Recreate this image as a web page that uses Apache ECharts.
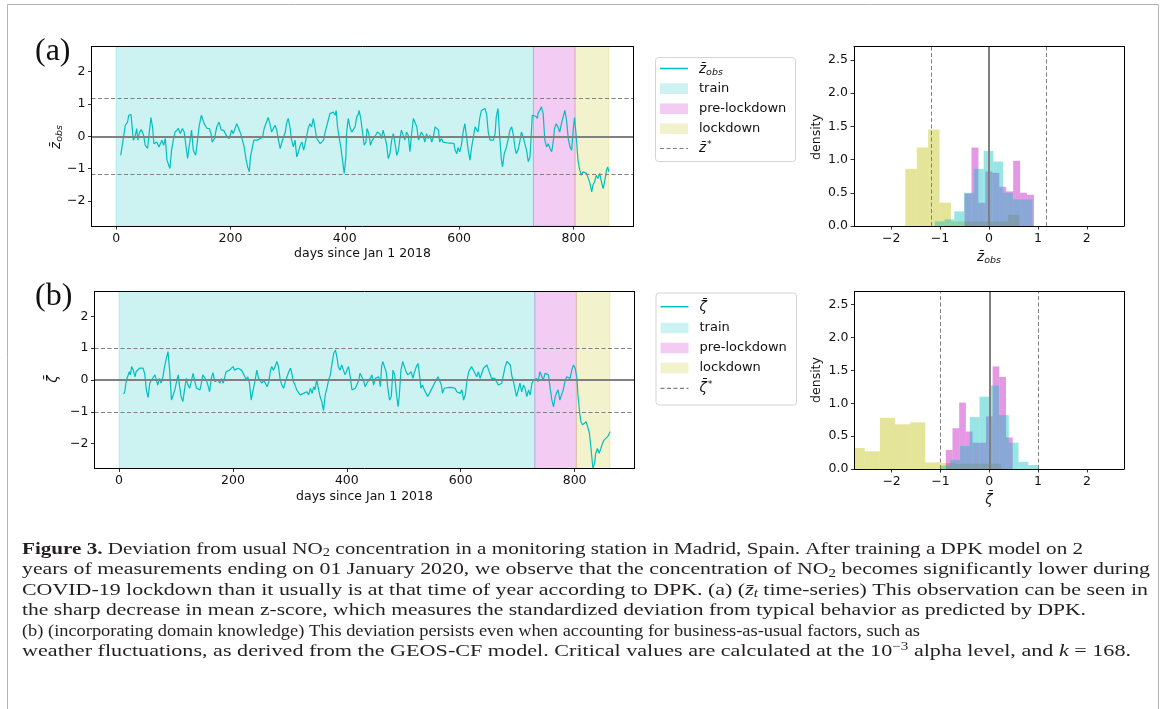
<!DOCTYPE html>
<html><head><meta charset="utf-8">
<script src="https://cdn.jsdelivr.net/npm/echarts@6/dist/echarts.min.js"></script>
<style>html,body{margin:0;padding:0;background:#fff}#c{width:1167px;height:709px}</style>
</head><body><div id="c"></div><script>
// ---------------- data ----------------
const dayTicks = [0, 200, 400, 600, 800];
const zTicks = [-2, -1, 0, 1, 2];
const densityTicks = [0, 0.5, 1, 1.5, 2, 2.5];
const periods = [0, 730, 803, 862];          // train | pre-lockdown | lockdown (days since Jan 1 2018)
const zStar = 1.18;                           // critical value panel (a)
const zetaStar = 1.0;                         // critical value panel (b)

// panel (a): mean z-score, [day, value]
const zobsSeries = [[8,-0.59],[13,-0.02],[16,0.34],[20,0.44],[22,0.65],[26,0.67],[28,0.29],[30,-0.12],[33,-0.02],[36,0.24],[38,-0.12],[41,0.13],[44,0.21],[48,0.03],[51,-0.28],[55,-0.38],[58,0.13],[61,0.58],[64,0.24],[66,-0.23],[71,-0.18],[75,-0.33],[80,-0.12],[83,-0.28],[86,-0.07],[89,-0.74],[92,-0.79],[94,-1.00],[97,-0.43],[100,-0.12],[103,0.13],[106,0.08],[109,0.24],[112,0.08],[116,0.24],[119,0.13],[122,-0.28],[125,-0.69],[128,-0.28],[132,0.19],[135,-0.43],[139,-0.59],[142,-0.18],[145,0.29],[149,0.65],[152,0.65],[154,0.39],[159,0.24],[163,0.24],[166,0.08],[168,-0.18],[172,-0.07],[176,0.29],[180,0.44],[184,0.19],[188,0.19],[191,0.13],[194,-0.02],[198,-0.07],[202,0.19],[205,0.08],[208,0.24],[211,0.39],[214,0.44],[218,0.08],[221,0.03],[224,-0.33],[227,-0.69],[230,-0.95],[233,-1.10],[235,-0.64],[239,-0.28],[241,-0.12],[244,-0.07],[247,-0.12],[252,-0.07],[256,-0.04],[259,0.24],[262,0.29],[266,0.58],[269,0.39],[272,0.13],[275,0.19],[278,0.34],[281,0.19],[284,-0.12],[287,-0.38],[290,-0.18],[293,-0.12],[296,0.13],[298,0.39],[301,0.55],[304,0.29],[307,-0.12],[310,-0.33],[313,-0.12],[316,-0.64],[319,-0.48],[322,-0.28],[325,-0.18],[328,-0.43],[330,-0.28],[333,-0.02],[336,0.24],[339,0.39],[342,0.29],[345,0.55],[348,0.24],[351,-0.07],[354,-0.12],[357,-0.23],[360,-0.28],[363,-0.12],[365,0.08],[368,0.13],[371,0.49],[374,0.70],[377,0.65],[380,0.75],[383,0.65],[385,0.80],[387,0.34],[390,-0.02],[393,-0.33],[396,-0.74],[399,-1.15],[402,-0.64],[403,0.08],[406,0.55],[409,0.29],[412,0.13],[415,0.19],[418,0.29],[421,0.60],[424,0.70],[425,0.80],[428,0.55],[431,0.13],[434,-0.28],[437,-0.18],[439,0.24],[442,0.08],[445,-0.28],[448,-0.12],[451,-0.07],[454,0.03],[457,0.13],[461,0.08],[464,-0.07],[467,0.19],[470,0.13],[473,-0.23],[476,-0.69],[479,-0.54],[482,-0.12],[485,0.08],[488,-0.23],[491,-0.59],[494,-0.43],[496,-0.12],[499,0.19],[502,0.13],[505,-0.12],[508,0.13],[511,0.03],[514,-0.48],[517,0.08],[520,0.55],[523,0.60],[526,0.29],[529,-0.12],[531,-0.12],[534,0.13],[537,0.03],[540,-0.18],[543,0.08],[546,-0.07],[549,0.03],[552,-0.18],[555,-0.02],[558,0.29],[561,0.34],[564,0.19],[566,-0.18],[569,-0.07],[572,-0.18],[575,-0.21],[581,-0.21],[587,-0.21],[591,-0.23],[593,-0.43],[596,-0.54],[598,-0.35],[601,-0.48],[604,-0.28],[607,0.13],[610,0.39],[613,-0.02],[616,-0.43],[619,-0.74],[622,-0.33],[625,-0.02],[628,0.29],[631,0.24],[633,0.13],[636,0.55],[639,0.80],[642,0.75],[645,0.86],[648,0.70],[651,0.13],[654,-0.12],[657,-0.18],[660,-0.12],[663,0.08],[665,0.60],[668,0.86],[671,-0.02],[674,-0.74],[676,-0.95],[679,-0.54],[683,-0.33],[686,-0.07],[689,0.19],[692,0.29],[695,0.03],[698,-0.38],[700,-0.54],[703,-0.43],[706,-0.18],[709,0.13],[712,-0.02],[715,-0.23],[718,-0.43],[721,-0.79],[724,-0.64],[727,0.29],[728,0.65],[731,0.60],[734,0.62],[737,0.55],[738,0.70],[741,0.80],[744,0.91],[747,0.70],[750,-0.12],[753,-0.33],[756,-0.23],[759,-0.38],[762,-0.48],[765,-0.12],[767,0.24],[770,0.39],[773,0.29],[776,0.13],[779,0.39],[782,0.60],[785,0.80],[788,0.49],[791,-0.07],[794,-0.33],[797,-0.43],[800,0.29],[802,0.58],[805,-0.02],[808,-0.74],[811,-1.05],[814,-1.21],[817,-1.10],[820,-1.05],[823,-1.15],[826,-1.21],[829,-1.46],[832,-1.72],[834,-1.52],[837,-1.41],[840,-1.21],[843,-1.31],[846,-1.15],[849,-1.41],[852,-1.62],[855,-1.36],[858,-1.05],[860,-0.95],[862,-1.10]];

// panel (b): domain-knowledge deviation, [day, value]
const zetaSeries = [[8,-0.44],[10,-0.37],[13,0],[16,0.05],[18,0.26],[20,0.16],[22,0.42],[25,0.31],[28,0.10],[30,0.26],[33,0.21],[36,0.37],[39,0.42],[42,0.37],[45,0.21],[48,-0.31],[51,-0.55],[54,-0.10],[57,0],[60,-0.05],[63,0.16],[66,0.10],[68,-0.16],[71,0.05],[74,-0.10],[77,0.10],[80,0.42],[83,0.68],[86,0.89],[89,0.26],[92,-0.63],[95,-0.63],[98,-0.31],[101,-0.05],[104,0.16],[106,-0.16],[109,-0.52],[112,-0.68],[115,-0.31],[118,0.05],[121,-0.16],[124,-0.26],[127,-0.31],[130,0.21],[133,0.26],[136,-0.26],[139,-0.21],[142,-0.31],[144,-0.16],[147,0.16],[150,0.10],[153,0],[156,-0.16],[159,-0.37],[162,0.05],[165,0.23],[168,-0.05],[171,-0.05],[174,0],[177,-0.10],[180,0.05],[183,-0.10],[185,-0.05],[188,0.26],[191,0.26],[194,0.31],[197,0.26],[200,0.42],[203,0.31],[206,0.26],[209,0.37],[212,0.42],[215,0.31],[218,0.26],[221,0.10],[223,0],[226,0.10],[229,-0.10],[232,-0.63],[234,-0.68],[236,-0.26],[239,0],[242,0.31],[245,0.05],[248,0.05],[251,-0.10],[254,0],[257,-0.10],[260,-0.21],[263,-0.05],[266,0.31],[268,0.42],[271,0.31],[274,0.42],[277,0.58],[280,0.42],[283,0],[286,-0.16],[289,-0.26],[292,-0.05],[295,0.10],[298,0.26],[301,0.37],[304,0.16],[306,-0.05],[309,-0.16],[312,-0.31],[315,-0.26],[318,-0.47],[321,-0.52],[324,-0.42],[327,-0.47],[330,-0.37],[333,-0.47],[336,-0.26],[339,-0.42],[342,-0.21],[344,-0.31],[347,0],[350,-0.26],[353,-0.52],[356,-0.68],[359,-0.96],[362,-0.47],[365,-0.26],[368,0],[371,0.16],[374,0.52],[377,0.84],[380,0.94],[383,0.68],[385,0.42],[388,0.31],[391,0.47],[394,0.31],[397,0.16],[400,0.31],[403,0.42],[406,0.10],[409,-0.31],[412,-0.26],[415,-0.26],[418,-0.21],[421,0],[423,0.21],[426,0.26],[429,0],[432,-0.21],[435,-0.10],[438,-0.05],[441,0.05],[444,0.16],[447,-0.16],[450,0.05],[453,0],[456,0.10],[459,-0.21],[461,0.42],[463,0.58],[466,0.52],[469,0.26],[472,-0.26],[475,-0.63],[478,-0.52],[481,0.31],[484,0.16],[487,-0.42],[490,-0.84],[492,-0.52],[495,0.31],[498,0.58],[501,0.42],[504,0.26],[507,0.16],[510,0.10],[513,0.26],[516,0.05],[519,0.26],[522,0.42],[525,0.52],[528,0.10],[530,-0.26],[533,-0.16],[536,-0.31],[539,-0.26],[542,-0.52],[545,-0.42],[548,-0.31],[551,-0.26],[554,-0.10],[557,0],[560,0.10],[563,0.10],[566,-0.16],[568,-0.42],[571,-0.26],[574,-0.23],[580,-0.23],[586,-0.24],[590,-0.26],[593,-0.37],[596,-0.31],[599,-0.42],[602,-0.31],[605,-0.63],[608,-0.47],[611,0],[614,0.26],[616,0.31],[619,0.42],[622,0.47],[625,0.21],[628,0.10],[631,0.26],[634,0.05],[637,0.21],[640,0.37],[643,0.42],[646,0.47],[649,0.31],[652,0.16],[654,0.05],[657,0.10],[660,0.05],[663,0],[666,-0.16],[669,-0.21],[672,-0.10],[675,-0.16],[678,0.42],[681,0.58],[684,0.60],[687,0.47],[690,0.10],[692,0],[695,-0.26],[698,-0.52],[701,-0.31],[704,-0.10],[707,-0.37],[710,-0.16],[713,-0.26],[716,-0.52],[719,-0.31],[722,-0.47],[725,-0.10],[728,0],[730,0],[733,0.05],[736,-0.05],[739,0.26],[742,0.31],[745,0],[748,0.21],[751,0.26],[754,0.16],[757,-0.26],[760,-0.63],[763,-0.84],[766,-0.52],[768,-0.42],[771,-0.31],[774,-0.63],[777,-0.58],[780,-0.31],[783,-0.05],[786,0.10],[789,0.10],[792,0.05],[795,0.31],[798,0.47],[801,0.37],[804,0.05],[806,-0.52],[809,-1.05],[811,-1.31],[814,-1.41],[817,-1.36],[820,-1.31],[823,-1.47],[826,-1.68],[829,-2.20],[832,-2.77],[835,-2.62],[837,-2.30],[840,-2.15],[843,-2.30],[846,-2.15],[849,-1.99],[852,-1.88],[855,-1.94],[858,-1.78],[861,-1.68],[862,-1.62]];

// histograms (density), bin edges + heights
const lockEdgesA  = [-1.71,-1.477,-1.244,-1.011,-0.778,-0.545,-0.312,-0.079,0.154,0.387,0.62];
const lockDensA   = [0.86,1.18,1.45,0.35,0.07,0.07,0.07,0.07,0.07,0.17];
const preEdgesA   = [-0.50,-0.358,-0.216,-0.074,0.068,0.21,0.352,0.494,0.636,0.778,0.92];
const preDensA    = [0.49,1.18,0.35,0.82,0.80,0.59,0.52,0.98,0.50,0.47];
const trainEdgesA = [-1.11,-0.91,-0.71,-0.51,-0.31,-0.11,0.09,0.29,0.49,0.69,0.89];
const trainDensA  = [0.07,0.10,0.22,0.50,0.86,1.13,0.97,0.50,0.40,0.40];

const lockEdgesB  = [-2.86,-2.55,-2.24,-1.93,-1.62,-1.31,-1.00,-0.69,-0.38,-0.07,0.24];
const lockDensB   = [0.32,0.27,0.78,0.68,0.71,0.10,0.09,0.08,0.08,0.08];
const preEdgesB   = [-0.89,-0.753,-0.616,-0.479,-0.342,-0.205,-0.068,0.069,0.206,0.343,0.48];
const preDensB    = [0.29,0.62,1.01,0.57,0.40,0.40,0.80,1.56,1.40,0.48];
const trainEdgesB = [-1.0,-0.8,-0.6,-0.4,-0.2,0.0,0.2,0.4,0.6,0.8,1.0];
const trainDensB  = [0.05,0.14,0.35,0.79,1.10,1.27,0.82,0.40,0.11,0.06];

// ---------------- styling ----------------
const TICKFONT = 'DejaVu Sans';
const CYAN = '#00bfbf';
const GRAY = '#808080';
const spanColors = ['rgba(0,191,191,0.2)', 'rgba(191,0,191,0.2)', 'rgba(191,191,0,0.2)'];
const histColors = {train:'rgba(0,191,191,0.4)', pre:'rgba(191,0,191,0.4)', lock:'rgba(191,191,0,0.4)'};
const minus = v => (v < 0 ? '\u2212' : '') + Math.abs(v);

const grids = [
  {left: 91.5, top: 46.5, width: 542, height: 179.5},
  {left: 94.5, top: 291.5, width: 540, height: 177},
  {left: 854, top: 46.5, width: 270, height: 179.5},
  {left: 854.5, top: 291.5, width: 269.5, height: 177.5}
].map(g => Object.assign({outerBoundsMode: 'none', containLabel: false}, g));

const ranges = [
  {x: [-43.1, 905.1], y: [-2.78, 2.78], xt: dayTicks, yt: zTicks, xf: minus, yf: minus},
  {x: [-43.1, 905.1], y: [-2.78, 2.78], xt: dayTicks, yt: zTicks, xf: minus, yf: minus},
  {x: [-2.76, 2.76], y: [0, 2.7], xt: zTicks, yt: densityTicks, xf: minus, yf: v => v.toFixed(1)},
  {x: [-2.76, 2.76], y: [0, 2.7], xt: zTicks, yt: densityTicks, xf: minus, yf: v => v.toFixed(1)}
];

const xAxes = [], yAxes = [];
ranges.forEach((r, gi) => {
  const lineSt = {show: true, onZero: false, lineStyle: {color: '#000', width: 1}};
  xAxes.push({type: 'value', gridIndex: gi, min: r.x[0], max: r.x[1], position: 'bottom', z: 10,
    axisLine: lineSt, splitLine: {show: false},
    axisTick: {show: true, inside: false, length: 3.5, lineStyle: {color: '#000', width: 0.8}, customValues: r.xt},
    axisLabel: {customValues: r.xt, formatter: r.xf, fontFamily: TICKFONT, fontSize: 12.5, color: '#111', margin: 6}});
  xAxes.push({type: 'value', gridIndex: gi, min: r.x[0], max: r.x[1], position: 'top', z: 10,
    axisLine: lineSt, splitLine: {show: false}, axisTick: {show: false}, axisLabel: {show: false}});
  yAxes.push({type: 'value', gridIndex: gi, min: r.y[0], max: r.y[1], position: 'left', z: 10,
    axisLine: lineSt, splitLine: {show: false},
    axisTick: {show: true, inside: false, length: 3.5, lineStyle: {color: '#000', width: 0.8}, customValues: r.yt},
    axisLabel: {customValues: r.yt, formatter: r.yf, fontFamily: TICKFONT, fontSize: 12.5, color: '#111', margin: 6}});
  yAxes.push({type: 'value', gridIndex: gi, min: r.y[0], max: r.y[1], position: 'right', z: 10,
    axisLine: lineSt, splitLine: {show: false}, axisTick: {show: false}, axisLabel: {show: false}});
});

function spanSeries(ax) {
  return {type: 'line', xAxisIndex: ax, yAxisIndex: ax, data: [], z: 1, silent: true, animation: false,
    markArea: {silent: true, animation: false, data: [0, 1, 2].map(i => [
      {xAxis: periods[i], itemStyle: {color: spanColors[i], borderColor: spanColors[i], borderWidth: 1}},
      {xAxis: periods[i + 1]}])}};
}
function hLines(ax, thr) {
  return {type: 'line', xAxisIndex: ax, yAxisIndex: ax, data: [], z: 5, silent: true, animation: false,
    markLine: {silent: true, animation: false, symbol: ['none', 'none'], label: {show: false},
      data: [{yAxis: 0, lineStyle: {color: GRAY, width: 2, type: 'solid'}},
             {yAxis: thr, lineStyle: {color: GRAY, width: 1.2, type: [4, 2.5]}},
             {yAxis: -thr, lineStyle: {color: GRAY, width: 1.2, type: [4, 2.5]}}]}};
}
function vLines(ax, thr) {
  return {type: 'line', xAxisIndex: ax, yAxisIndex: ax, data: [], z: 5, silent: true, animation: false,
    markLine: {silent: true, animation: false, symbol: ['none', 'none'], label: {show: false},
      data: [{xAxis: 0, lineStyle: {color: GRAY, width: 2, type: 'solid'}},
             {xAxis: thr, lineStyle: {color: GRAY, width: 1, type: [4, 2.5]}},
             {xAxis: -thr, lineStyle: {color: GRAY, width: 1, type: [4, 2.5]}}]}};
}
function hist(ax, edges, dens, color, z) {
  return {type: 'custom', xAxisIndex: ax, yAxisIndex: ax, z: z, silent: true, animation: false,
    data: dens.map((d, i) => [edges[i], edges[i + 1], d]),
    encode: {x: [0, 1], y: 2},
    renderItem: function (params, api) {
      const p0 = api.coord([api.value(0), api.value(2)]);
      const p1 = api.coord([api.value(1), 0]);
      const cs = params.coordSys;
      const rect = echarts.graphic.clipRectByRect(
        {x: p0[0], y: p0[1], width: p1[0] - p0[0], height: p1[1] - p0[1]},
        {x: cs.x, y: cs.y, width: cs.width, height: cs.height});
      if (!rect) return null;
      return {type: 'rect', shape: rect, style: {fill: color}};
    }};
}
function tsLine(ax, data) {
  return {type: 'line', xAxisIndex: ax, yAxisIndex: ax, data: data, z: 3, showSymbol: false, symbol: 'none',
    silent: true, animation: false, lineStyle: {color: CYAN, width: 1.2}};
}

const series = [
  spanSeries(0), tsLine(0, zobsSeries), hLines(0, zStar),
  spanSeries(2), tsLine(2, zetaSeries), hLines(2, zetaStar),
  hist(4, lockEdgesA, lockDensA, histColors.lock, 2), hist(4, preEdgesA, preDensA, histColors.pre, 2),
  hist(4, trainEdgesA, trainDensA, histColors.train, 2), vLines(4, zStar),
  hist(6, lockEdgesB, lockDensB, histColors.lock, 2), hist(6, preEdgesB, preDensB, histColors.pre, 2),
  hist(6, trainEdgesB, trainDensB, histColors.train, 2), vLines(6, zetaStar)
];

// ---------------- text helpers ----------------
const mathRich = {
  m: {fontFamily: TICKFONT, fontStyle: 'italic', fontSize: 13.5, verticalAlign: 'middle', fill: '#111'},
  s: {fontFamily: TICKFONT, fontStyle: 'italic', fontSize: 9.5, padding: [7, 0, 0, 0], verticalAlign: 'top', fill: '#111'},
  p: {fontFamily: TICKFONT, fontSize: 9.5, padding: [0, 0, 8, 1], verticalAlign: 'top', fill: '#111'},
  t: {fontFamily: TICKFONT, fontSize: 13, verticalAlign: 'middle', fill: '#111'}
};
function txt(x, y, text, opts) {
  opts = opts || {};
  return {type: 'text', x: x, y: y, rotation: opts.rotation || 0, z: 20, silent: true,
    style: {text: text, rich: mathRich, fontFamily: opts.family || TICKFONT, fontSize: opts.size || 13,
      fill: opts.fill || '#111', align: opts.align || 'center', verticalAlign: 'middle',
      fontWeight: opts.weight || 'normal'}};
}
const ZOBS = '{m|z\u0304}{s|obs}';
const ZSTAR = '{m|z\u0304}{p|*}';
const ZETA = '{m|\u03b6\u0304}';
const ZETASTAR = '{m|\u03b6\u0304}{p|*}';

function legend(x0, y0, w, h, rows, label1, label5) {
  const els = [];
  els.push({type: 'rect', z: 19, silent: true, shape: {x: x0, y: y0, width: w, height: h, r: 3},
    style: {fill: 'rgba(255,255,255,0.8)', stroke: '#d5d5d5', lineWidth: 1}});
  const lx0 = x0 + 4.5, lx1 = x0 + 32.5, tx = x0 + 43.5;
  els.push({type: 'line', z: 20, silent: true, shape: {x1: lx0, y1: rows[0], x2: lx1, y2: rows[0]},
    style: {stroke: CYAN, lineWidth: 1.5}});
  els.push(txt(tx, rows[0] + 1, label1, {align: 'left'}));
  const names = ['train', 'pre-lockdown', 'lockdown'];
  for (let i = 0; i < 3; i++) {
    els.push({type: 'rect', z: 20, silent: true, shape: {x: lx0, y: rows[i + 1] - 5.3, width: 28, height: 10.6},
      style: {fill: spanColors[i]}});
    els.push(txt(tx, rows[i + 1], names[i], {align: 'left'}));
  }
  els.push({type: 'line', z: 20, silent: true, shape: {x1: lx0, y1: rows[4], x2: lx1, y2: rows[4]},
    style: {stroke: GRAY, lineWidth: 1.2, lineDash: [4, 2.5]}});
  els.push(txt(tx, rows[4], label5, {align: 'left'}));
  return els;
}

// caption
const CAPFONT = 'Liberation Serif', CAPSIZE = 17.5, CAPCOLOR = '#231f20';
const capRich = {
  b: {fontFamily: CAPFONT, fontSize: CAPSIZE, fontWeight: 'bold', fill: CAPCOLOR},
  r: {fontFamily: CAPFONT, fontSize: CAPSIZE, fill: CAPCOLOR},
  i: {fontFamily: CAPFONT, fontSize: CAPSIZE, fontStyle: 'italic', fill: CAPCOLOR},
  sb: {fontFamily: CAPFONT, fontSize: 12, fill: CAPCOLOR, padding: [8, 0, 0, 0], verticalAlign: 'top'},
  is: {fontFamily: CAPFONT, fontSize: 12, fontStyle: 'italic', fill: CAPCOLOR, padding: [8, 0, 0, 0], verticalAlign: 'top'},
  sp: {fontFamily: CAPFONT, fontSize: 12, fill: CAPCOLOR, padding: [0, 0, 9, 0], verticalAlign: 'top'}
};
const captionLines = [
  [['b', 'Figure 3.'], ['r', ' Deviation from usual NO'], ['sb', '2'], ['r', ' concentration in a monitoring station in Madrid, Spain. After training a DPK model on 2']],
  [['r', 'years of measurements ending on 01 January 2020, we observe that the concentration of NO'], ['sb', '2'], ['r', ' becomes significantly lower during']],
  [['r', 'COVID-19 lockdown than it usually is at that time of year according to DPK. (a) ('], ['i', 'z\u0304'], ['is', 't'], ['r', ' time-series) This observation can be seen in']],
  [['r', 'the sharp decrease in mean z-score, which measures the standardized deviation from typical behavior as predicted by DPK.']],
  [['r', '(b) (incorporating domain knowledge) This deviation persists even when accounting for business-as-usual factors, such as']],
  [['r', 'weather fluctuations, as derived from the GEOS-CF model. Critical values are calculated at the 10'], ['sp', '\u22123'], ['r', ' alpha level, and '], ['i', 'k'], ['r', ' = 168.']]
];
const captionRight = [1083, 1150, 1148, 1086, 920, 1131];
const captionY = [549, 569.5, 590, 610.5, 631, 651.5];
const mctx = document.createElement('canvas').getContext('2d');
function segWidth(seg) {
  const st = capRich[seg[0]];
  mctx.font = (st.fontStyle || 'normal') + ' ' + (st.fontWeight || 'normal') + ' ' + st.fontSize + 'px "' + CAPFONT + '"';
  return mctx.measureText(seg[1]).width;
}
const captionEls = captionLines.map((segs, i) => {
  const w = segs.reduce((a, s) => a + segWidth(s), 0);
  const sx = (captionRight[i] - 22) / w;
  return {type: 'text', x: 22, y: captionY[i], scaleX: sx, scaleY: 1, z: 20, silent: true,
    style: {text: segs.map(s => '{' + s[0] + '|' + s[1] + '}').join(''), rich: capRich,
      fontFamily: CAPFONT, fontSize: CAPSIZE, fill: CAPCOLOR, align: 'left', verticalAlign: 'middle'}};
});

const graphics = [
  {type: 'rect', z: 0, silent: true, shape: {x: 7.5, y: 4.5, width: 1151, height: 720},
    style: {fill: 'none', stroke: '#b4b4b4', lineWidth: 1}},
  txt(35, 51.5, '(a)', {family: 'Liberation Serif', size: 32, align: 'left'}),
  txt(35, 296.5, '(b)', {family: 'Liberation Serif', size: 32, align: 'left'}),
  txt(362.5, 254, 'days since Jan 1 2018', {size: 12.5}),
  txt(364.5, 497, 'days since Jan 1 2018', {size: 12.5}),
  txt(56, 137, ZOBS, {rotation: Math.PI / 2}),
  txt(53, 379, ZETA, {rotation: Math.PI / 2}),
  txt(817, 137, 'density', {rotation: Math.PI / 2, size: 12.5}),
  txt(817, 380, 'density', {rotation: Math.PI / 2, size: 12.5}),
  txt(989, 257, ZOBS),
  txt(989, 500, ZETA)
].concat(
  legend(655.5, 57.5, 140, 104, [68.5, 88.7, 108.7, 128.7, 148.5], ZOBS, ZSTAR),
  legend(656, 293, 140.5, 112, [306.7, 328, 348, 368, 388.3], ZETA, ZETASTAR),
  captionEls
);

const chart = echarts.init(document.getElementById('c'), null, {renderer: 'canvas'});
chart.setOption({
  animation: false,
  backgroundColor: '#fff',
  grid: grids,
  xAxis: xAxes,
  yAxis: yAxes,
  series: series,
  graphic: graphics
});
</script></body></html>
